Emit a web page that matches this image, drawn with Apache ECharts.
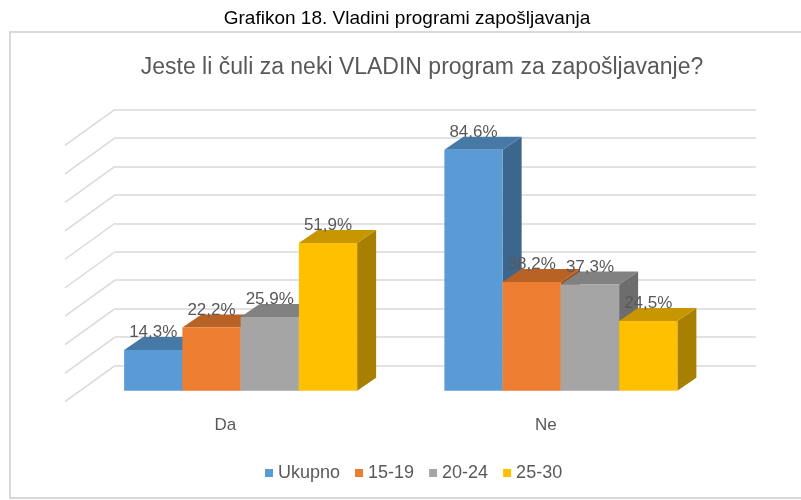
<!DOCTYPE html>
<html>
<head>
<meta charset="utf-8">
<script src="https://cdn.jsdelivr.net/npm/echarts@6/dist/echarts.min.js"></script>
<style>
html, body { margin: 0; padding: 0; background: #fff; }
#myChart { width: 801px; height: 500px; }
</style>
</head>
<body>
<div id="myChart"></div>
<script>
var categories = ['Da', 'Ne'];
var seriesNames = ['Ukupno', '15-19', '20-24', '25-30'];
var ukupno = [14.3, 84.6];
var g1519 = [22.2, 38.2];
var g2024 = [25.9, 37.3];
var g2530 = [51.9, 24.5];
var wallTicks = [0, 10, 20, 30, 40, 50, 60, 70, 80, 90];

var colors = ['#5B9BD5', '#ED7D31', '#A5A5A5', '#FFC000'];
var topColors = ['#4779A6', '#B96226', '#818181', '#C79600'];
var sideColors = ['#3C668D', '#9C5320', '#6D6D6D', '#A87F00'];

var depthX = 19, depthY = 13;
var fontName = '"Liberation Sans", Arial, sans-serif';

// one 3d box per data item, bars of a group laid side by side
function makeBox(idx) {
	return function(params, api) {
		var cat = api.value(0), val = api.value(1);
		var base = api.coord([cat, 0]);
		var top = api.coord([cat, val]);
		var band = api.size([1, 0])[0];
		var bw = band * 0.7275 / 4;
		var x0 = base[0] - 2 * bw + idx * bw;
		var ty = top[1], by = base[1];
		return {
			type: 'group',
			children: [{
				type: 'polygon',
				shape: { points: [[x0 + bw, ty], [x0 + bw + depthX, ty - depthY], [x0 + bw + depthX, by - depthY], [x0 + bw, by]] },
				style: { fill: sideColors[idx] }
			}, {
				type: 'polygon',
				shape: { points: [[x0, ty], [x0 + depthX, ty - depthY], [x0 + bw + depthX, ty - depthY], [x0 + bw, ty]] },
				style: { fill: topColors[idx] }
			}, {
				type: 'rect',
				shape: { x: x0, y: ty, width: bw, height: by - ty },
				style: { fill: colors[idx] }
			}, {
				type: 'text',
				z2: 100,
				style: {
					text: val.toFixed(1).replace('.', ',') + '%',
					x: x0 + bw / 2,
					y: ty - depthY + 4,
					align: 'center',
					verticalAlign: 'bottom',
					fill: '#595959',
					fontSize: 17,
					fontFamily: fontName
				}
			}]
		};
	};
}

function toData(arr) {
	var out = [];
	for (var i = 0; i < arr.length; i++) {
		out.push([i, arr[i]]);
	}
	return out;
}

var values = [ukupno, g1519, g2024, g2530];
var series = [{
	type: 'custom',
	xAxisIndex: 0,
	yAxisIndex: 0,
	silent: true,
	data: wallTicks.map(function(v) { return [0, v]; }),
	renderItem: function(params, api) {
		var p = api.coord([0, api.value(1)]);
		var x = params.coordSys.x;
		return {
			type: 'line',
			shape: { x1: x, y1: p[1], x2: x - 50, y2: p[1] + 36 },
			style: { stroke: '#d9d9d9', lineWidth: 1.5 }
		};
	}
}];
for (var s = 0; s < 4; s++) {
	series.push({
		name: seriesNames[s],
		type: 'custom',
		xAxisIndex: 1,
		yAxisIndex: 1,
		itemStyle: { color: colors[s] },
		encode: { x: 0, y: 1 },
		data: toData(values[s]),
		renderItem: makeBox(s)
	});
}

var option = {
	animation: false,
	color: colors,
	title: [{
		text: 'Grafikon 18. Vladini programi zapošljavanja',
		left: 402,
		textAlign: 'center',
		top: 4,
		textStyle: { color: '#000', fontSize: 19, fontWeight: 'normal', fontFamily: fontName }
	}, {
		text: 'Jeste li čuli za neki VLADIN program za zapošljavanje?',
		left: 417,
		textAlign: 'center',
		top: 51,
		textStyle: { color: '#595959', fontSize: 23, fontWeight: 'normal', fontFamily: fontName }
	}],
	graphic: [{
		type: 'polyline',
		shape: { points: [[820, 32], [10, 32], [10, 498], [820, 498]] },
		style: { fill: null, stroke: '#d9d9d9', lineWidth: 2 }
	}],
	legend: {
		data: seriesNames,
		icon: 'rect',
		itemWidth: 8,
		itemHeight: 8,
		itemGap: 15,
		left: 260,
		top: 459,
		textStyle: { color: '#595959', fontSize: 18, fontFamily: fontName }
	},
	grid: [
		{ left: 115, top: 109.3, width: 641, height: 256.4 },
		{ left: 80.5, top: 134.4, width: 640.5, height: 256.3 },
		{ left: 65, top: 145.7, width: 641, height: 256 }
	],
	xAxis: [
		{ gridIndex: 0, type: 'category', data: categories, show: false },
		{ gridIndex: 1, type: 'category', data: categories, show: false },
		{
			gridIndex: 2, type: 'category', data: categories,
			axisLine: { show: false }, axisTick: { show: false },
			axisLabel: { margin: 15, color: '#595959', fontSize: 17, fontFamily: fontName }
		}
	],
	yAxis: [
		{
			gridIndex: 0, type: 'value', min: 0, max: 90, interval: 10,
			axisLabel: { show: false }, axisLine: { show: false }, axisTick: { show: false },
			splitLine: { lineStyle: { color: '#d9d9d9', width: 1.5 } }
		},
		{ gridIndex: 1, type: 'value', min: 0, max: 90, show: false, splitLine: { show: false } },
		{ gridIndex: 2, type: 'value', min: 0, max: 90, show: false, splitLine: { show: false } }
	],
	series: series
};

var myChart = echarts.init(document.getElementById('myChart'));
myChart.setOption(option);
</script>
</body>
</html>
